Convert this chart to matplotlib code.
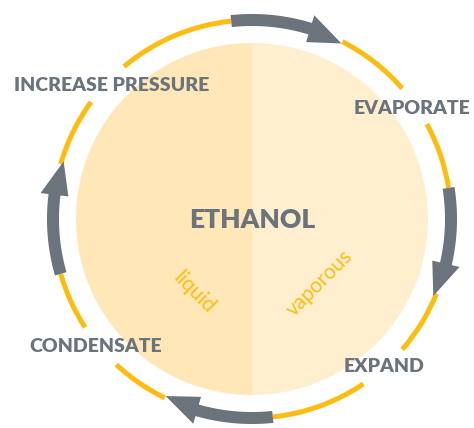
import matplotlib.pyplot as plt
import numpy as np
from matplotlib.patches import Wedge, Polygon

# cycle steps: label, label position (px), arrow start/tip angles (deg)
steps = ["INCREASE PRESSURE", "EVAPORATE", "EXPAND", "CONDENSATE"]
label_xy = [(112, 85), (412, 108), (384, 366), (96, 347)]
arrow_start = [96, 9, -84, -164]
arrow_tip = [63, -23, -116, -197]
# yellow ring pieces between arrows and labels (deg)
ring_from = [63, 28.5, -22, -56, -116, -147, 164, 130]
ring_to = [41, 9, -41, -84, -133, -164, 144, 96]

center_label = "ETHANOL"
phases = ["liquid", "vaporous"]
phase_xy = [(194, 293), (320, 283)]
phase_rot = [-45, 45]

W, H = 474, 428
cx, cy = 252, H - 219
R_ring = 199
R_fill = 176

gray = "#6b737d"
yellow = "#fdbd10"
left_fill = "#ffe7b8"
right_fill = "#ffefcf"

fig = plt.figure(figsize=(W / 100, H / 100), dpi=100)
ax = fig.add_axes([0, 0, 1, 1])
ax.set_xlim(0, W)
ax.set_ylim(0, H)
ax.axis("off")

ax.add_patch(Wedge((cx, cy), R_fill, 90, 270, color=left_fill, lw=0))
ax.add_patch(Wedge((cx, cy), R_fill, -90, 90, color=right_fill, lw=0))

for a, b in zip(ring_from, ring_to):
    ax.add_patch(Wedge((cx, cy), R_ring + 2.5, min(a, b), max(a, b), width=5,
                       color=yellow, lw=0))


def pt(r, deg):
    t = np.radians(deg)
    return cx + r * np.cos(t), cy + r * np.sin(t)


def arrow(start, tip):
    head = 10 if tip < start else -10
    base = tip + head
    ang = np.linspace(start, base, 40)
    outer = [pt(R_ring + 6, a) for a in ang]
    inner = [pt(R_ring - 6, a) for a in ang[::-1]]
    head_pts = [pt(R_ring + 14, base), pt(R_ring - 2, tip), pt(R_ring - 14, base)]
    pts = outer + head_pts + inner
    ax.add_patch(Polygon(pts, closed=True, color=gray, lw=0))


for s, t in zip(arrow_start, arrow_tip):
    arrow(s, t)

for lab, (x, y) in zip(steps, label_xy):
    ax.text(x, H - y, lab, ha="center", va="center", fontsize=14,
            fontweight="heavy", family="Lato", color=gray)

ax.text(cx, H - 220, center_label, ha="center", va="center", fontsize=19,
        fontweight="heavy", family="Lato", color=gray)

for lab, (x, y), r in zip(phases, phase_xy, phase_rot):
    ax.text(x, H - y, lab, ha="center", va="center", fontsize=15,
            family="Lato", color=yellow, rotation=r, rotation_mode="anchor")

fig.savefig("out.png", dpi=100)
